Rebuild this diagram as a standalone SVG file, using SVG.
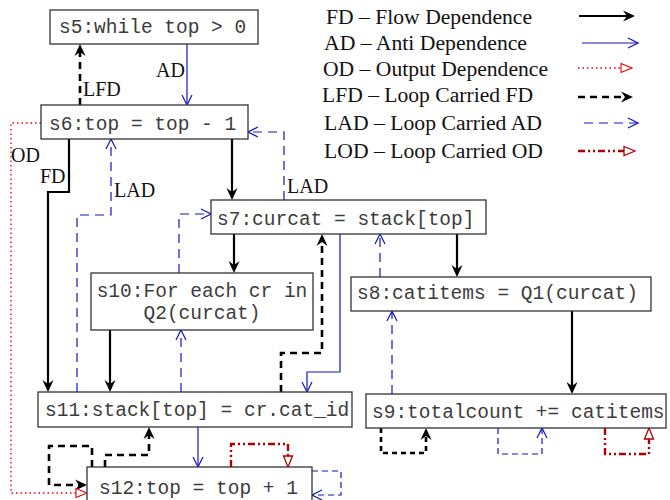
<svg xmlns="http://www.w3.org/2000/svg" width="670" height="500" viewBox="0 0 670 500">
<style>
.box{fill:#fff;stroke:#333;stroke-width:1.3}
.nt{font-family:"Liberation Mono","DejaVu Sans Mono",monospace;font-size:19.5px;fill:#3c3c3c}
.lb{font-family:"Liberation Serif","DejaVu Serif",serif;font-size:20px;fill:#111}
.fd{fill:none;stroke:#000;stroke-width:2.2;marker-end:url(#aF)}
.ad{fill:none;stroke:#1515c4;stroke-width:1.2;marker-end:url(#aA)}
.od{fill:none;stroke:#e00;stroke-width:1.3;stroke-dasharray:1.5 3;marker-end:url(#aO)}
.lfd{fill:none;stroke:#000;stroke-width:2.6;stroke-dasharray:7 5;marker-end:url(#aF)}
.lfd2{fill:none;stroke:#000;stroke-width:2.6;stroke-dasharray:5 4;marker-end:url(#aF)}
.lad{fill:none;stroke:#1515c4;stroke-width:1.2;stroke-dasharray:9 6;marker-end:url(#aA)}
.lad2{fill:none;stroke:#1515c4;stroke-width:1.2;stroke-dasharray:6 4;marker-end:url(#aA)}
.lod{fill:none;stroke:#b00000;stroke-width:2.4;stroke-dasharray:7 3 2 3 2 3;marker-end:url(#aL)}
</style>
<defs>
<marker id="aF" viewBox="-13 -7 14 14" refX="-7" refY="0" markerWidth="14" markerHeight="14" markerUnits="userSpaceOnUse" orient="auto"><path d="M0,0 L-12,-5.5 L-8,0 L-12,5.5 Z" fill="#000"/></marker>
<marker id="aA" viewBox="-13 -7 14 14" refX="0" refY="0" markerWidth="14" markerHeight="14" markerUnits="userSpaceOnUse" orient="auto"><path d="M-10,-5 L0,0 L-10,5" fill="none" stroke="#1515c4" stroke-width="1.2"/></marker>
<marker id="aO" viewBox="-13 -7 14 14" refX="-11" refY="0" markerWidth="14" markerHeight="14" markerUnits="userSpaceOnUse" orient="auto"><path d="M-11,-4.5 L0,0 L-11,4.5 Z" fill="#fff" stroke="#e00" stroke-width="1.1"/></marker>
<marker id="aL" viewBox="-13 -7 14 14" refX="-11" refY="0" markerWidth="14" markerHeight="14" markerUnits="userSpaceOnUse" orient="auto"><path d="M-11,-4.5 L0,0 L-11,4.5 Z" fill="#fff" stroke="#b00000" stroke-width="1.3"/></marker>
</defs>
<rect width="670" height="500" fill="#fff"/>

<g id="connectors">
<path class="fd" d="M232,139 V193"/>
<path class="fd" d="M69,139 V192 H48 V385"/>
<path class="fd" d="M234,234 V266"/>
<path class="fd" d="M457,234 V270"/>
<path class="fd" d="M572,311 V387"/>
<path class="fd" d="M110,330 V385"/>
<path class="lfd" d="M80,105 V51"/>
<path class="lfd" d="M281,392 V353 H322 V241"/>
<path class="lfd" d="M105,467 V455 H149 V434"/>
<path class="lfd" d="M92,467 V446 H49 V485 H80"/>
<path class="lfd2" d="M381,428 V453 H426 V435"/>
<path class="ad" d="M187,44 V105"/>
<path class="ad" d="M340,234 V372 H307 V392"/>
<path class="ad" d="M198,427 V467"/>
<path class="lad" d="M284,200 V132 H248"/>
<path class="lad" d="M77,392 V215 H111 V139"/>
<path class="lad" d="M179,273 V214 H211"/>
<path class="lad" d="M181,392 V330"/>
<path class="lad" d="M380,277 V234"/>
<path class="lad" d="M392,394 V311"/>
<path class="lad2" d="M312,471 H341 V495 H312"/>
<path class="lad2" d="M498,428 V454 H542 V428"/>
<path class="od" d="M41,123 H11 V493 H76"/>
<path class="lod" d="M231,467 V444 H288 V456"/>
<path class="lod" d="M605,428 V454 H649 V439"/>
<text class="lb" x="83" y="96">LFD</text>
<text class="lb" x="156" y="77">AD</text>
<text class="lb" x="11" y="162">OD</text>
<text class="lb" x="40" y="183">FD</text>
<text class="lb" x="114" y="197">LAD</text>
<text class="lb" x="287" y="193">LAD</text>
</g>

<g id="s5"><rect class="box" x="50" y="10" width="208" height="34"/><text class="nt" x="59" y="33">s5:while top &gt; 0</text></g>
<g id="s6"><rect class="box" x="41" y="105" width="207" height="34"/><text class="nt" x="49" y="130">s6:top = top - 1</text></g>
<g id="s7"><rect class="box" x="211" y="200" width="275" height="34"/><text class="nt" x="217" y="225">s7:curcat = stack[top]</text></g>
<g id="s10"><rect class="box" x="91" y="273" width="222" height="57"/><text class="nt" x="202" y="297" text-anchor="middle">s10:For each cr in</text><text class="nt" x="202" y="319" text-anchor="middle">Q2(curcat)</text></g>
<g id="s8"><rect class="box" x="351" y="277" width="300" height="34"/><text class="nt" x="357" y="299">s8:catitems = Q1(curcat)</text></g>
<g id="s11"><rect class="box" x="38" y="392" width="314" height="35"/><text class="nt" x="45" y="416">s11:stack[top] = cr.cat_id</text></g>
<g id="s9"><rect class="box" x="366" y="394" width="300" height="34"/><text class="nt" x="372" y="418">s9:totalcount += catitems</text></g>
<g id="s12"><rect class="box" x="87" y="467" width="225" height="34"/><text class="nt" x="99" y="494">s12:top = top + 1</text></g>

<g id="legend">
<text class="lb" x="326" y="24" textLength="206" lengthAdjust="spacingAndGlyphs">FD – Flow Dependence</text>
<text class="lb" x="324" y="50" textLength="203" lengthAdjust="spacingAndGlyphs">AD – Anti Dependence</text>
<text class="lb" x="323" y="76" textLength="225" lengthAdjust="spacingAndGlyphs">OD – Output Dependence</text>
<text class="lb" x="322" y="102" textLength="211" lengthAdjust="spacingAndGlyphs">LFD – Loop Carried FD</text>
<text class="lb" x="324" y="130" textLength="218" lengthAdjust="spacingAndGlyphs">LAD – Loop Carried AD</text>
<text class="lb" x="324" y="158" textLength="219" lengthAdjust="spacingAndGlyphs">LOD – Loop Carried OD</text>
<path class="fd" d="M579,16 H628"/>
<path class="ad" d="M582,43 H638"/>
<path class="od" d="M578,68 H621"/>
<path class="lfd" d="M578,97 H626"/>
<path class="lad" d="M584,123 H638"/>
<path class="lod" d="M578,151 H624"/>
</g>
</svg>
